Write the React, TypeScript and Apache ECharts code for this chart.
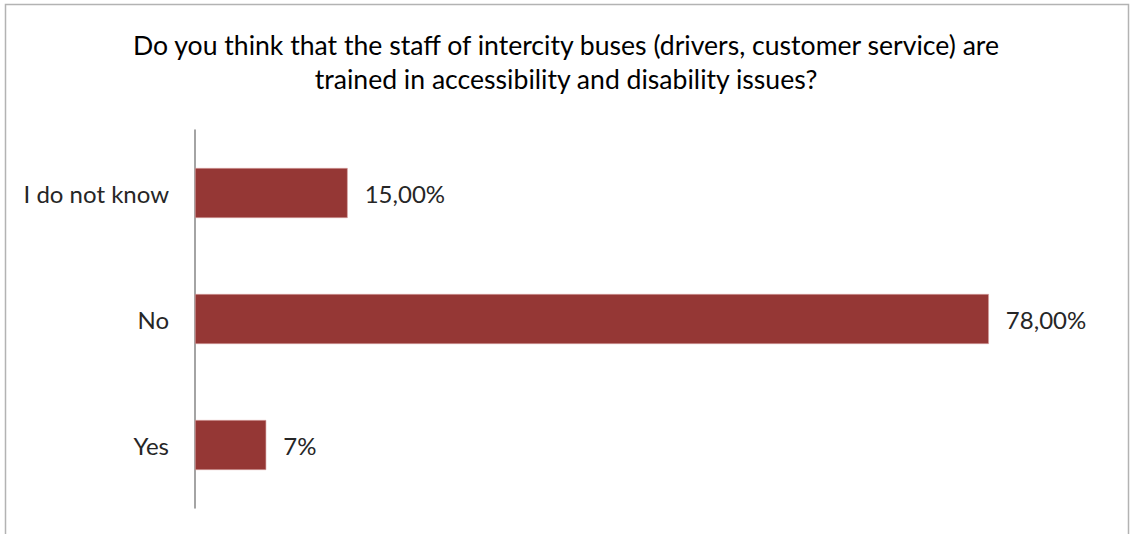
import React, { useEffect, useRef } from "react";
import * as echarts from "echarts";

const categories = ["Yes", "No", "I do not know"];
const values = [0.07, 0.78, 0.15];
const valueLabels = ["7%", "78,00%", "15,00%"];
const titleText =
  "Do you think that the staff of intercity buses (drivers, customer service) are\ntrained in accessibility and disability issues?";

export default function App() {
  const ref = useRef<HTMLDivElement>(null);
  useEffect(() => {
    document.body.style.margin = "0";
    const chart = echarts.init(ref.current!, null, { renderer: "svg" });
    chart.setOption({
      animation: false,
      backgroundColor: "#ffffff",
      title: {
        text: titleText,
        left: "center",
        top: 23,
        padding: 5,
        textStyle: {
          fontFamily: "Lato",
          fontSize: 26.6,
          fontWeight: "normal",
          color: "#000000",
          lineHeight: 34,
        },
      },
      graphic: [
        {
          type: "rect",
          shape: { x: 5.5, y: 4.5, width: 1123, height: 540 },
          style: { fill: "none", stroke: "#b3b3b3", lineWidth: 1.5 },
          silent: true,
        },
      ],
      grid: { left: 195, top: 130, width: 916, height: 378 },
      xAxis: {
        type: "value",
        min: 0,
        max: 0.9,
        show: false,
      },
      yAxis: {
        type: "category",
        data: categories,
        axisLine: { show: true, lineStyle: { color: "#868686", width: 1.5 } },
        axisTick: { show: false },
        axisLabel: {
          fontFamily: "Lato",
          fontSize: 24,
          color: "#262626",
          margin: 26,
          padding: [0, 0, 5, 0],
        },
      },
      series: [
        {
          type: "bar",
          data: values,
          barWidth: 50,
          itemStyle: {
            color: "#953735",
            borderColor: "#d9a3a3",
            borderWidth: 0.6,
          },
          label: {
            show: true,
            position: "right",
            distance: 17,
            fontFamily: "Lato",
            fontSize: 24,
            color: "#262626",
            padding: [0, 0, 3, 0],
            formatter: (p: any) => valueLabels[p.dataIndex],
          },
        },
      ],
    });
    return () => chart.dispose();
  }, []);
  return <div ref={ref} style={{ width: 1132, height: 534 }} />;
}
